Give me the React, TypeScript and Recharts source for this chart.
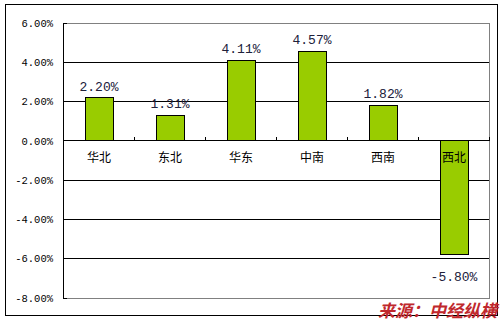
import { BarChart, Bar, XAxis, YAxis, CartesianGrid, ReferenceArea, ReferenceLine, LabelList } from 'recharts'

const regions = ['华北', '东北', '华东', '中南', '西南', '西北']
const growth = [2.2, 1.31, 4.11, 4.57, 1.82, -5.8]
const yTicks = [-8, -6, -4, -2, 0, 2, 4, 6]
const source = '来源：中经纵横'

const data = regions.map((name, i) => ({ name, value: growth[i] }))

const W = 502
const H = 322
const margin = { top: 23, right: 13, bottom: 24, left: 0 }
const yAxisWidth = 63
const bandWidth = (W - margin.left - margin.right - yAxisWidth) / regions.length

const mono = '"Liberation Mono", "DejaVu Sans Mono", monospace'

function ValueLabel(props: any) {
  const { x = 0, y = 0, width = 0, height = 0, value } = props
  const cx = x + width / 2
  const top = Math.min(y, y + height)
  const bottom = Math.max(y, y + height)
  const v = Number(value)
  const ty = v >= 0 ? top - 7 : bottom + 26
  return (
    <text x={cx} y={ty} textAnchor="middle" fontFamily={mono} fontSize={13} fill="#20203a">
      {`${v.toFixed(2)}%`}
    </text>
  )
}

function NameLabel(props: any) {
  const { x = 0, y = 0, width = 0, height = 0, value, index } = props
  const cx = x + width / 2
  const v = growth[index]
  const zero = v >= 0 ? Math.max(y, y + height) : Math.min(y, y + height)
  const edge = cx + bandWidth / 2
  return (
    <g>
      <line x1={edge} x2={edge} y1={zero} y2={zero - 4} stroke="#000" shapeRendering="crispEdges" />
      <text x={cx} y={zero + 21} textAnchor="middle" fontFamily='"Noto Sans CJK SC", sans-serif' fontSize={12} fill="#000">
        {value}
      </text>
    </g>
  )
}

export default function App() {
  return (
    <div style={{ position: 'absolute', left: 0, top: 0, width: W, height: H, background: '#fff' }}>
      <div
        style={{
          position: 'absolute',
          left: 5,
          top: 4,
          width: 493,
          height: 312,
          border: '1px solid #000',
          boxSizing: 'border-box',
        }}
      />
      <div style={{ position: 'absolute', left: 0, top: 0 }}>
        <BarChart width={W} height={H} data={data} margin={margin}>
          <CartesianGrid stroke="#000" vertical={false} shapeRendering="crispEdges" />
          <ReferenceArea
            y1={-8}
            y2={6}
            fill="none"
            stroke="#808080"
            strokeOpacity={1}
            ifOverflow="extendDomain"
            shapeRendering="crispEdges"
          />
          <XAxis dataKey="name" hide />
          <YAxis
            domain={[-8, 6]}
            ticks={yTicks}
            width={yAxisWidth}
            interval={0}
            axisLine={{ stroke: '#000', shapeRendering: 'crispEdges' }}
            tickLine={{ stroke: '#000', shapeRendering: 'crispEdges' }}
            tickSize={-4}
            tickMargin={14}
            tick={{ fill: '#000', fontSize: 10.5, fontFamily: mono }}
            tickFormatter={(v: number) => `${v.toFixed(2)}%`}
          />
          <ReferenceLine y={0} stroke="#000" shapeRendering="crispEdges" />
          <Bar
            dataKey="value"
            fill="#99CC00"
            stroke="#000"
            strokeWidth={1}
            barSize={28}
            shapeRendering="crispEdges"
            isAnimationActive={false}
          >
            <LabelList dataKey="value" content={<ValueLabel />} />
            <LabelList dataKey="name" content={<NameLabel />} />
          </Bar>
        </BarChart>
      </div>
      <div
        style={{
          position: 'absolute',
          left: 378,
          top: 301,
          fontFamily: '"Noto Sans CJK SC", sans-serif',
          fontWeight: 700,
          fontStyle: 'italic',
          fontSize: 17,
          lineHeight: '17px',
          color: '#C0282D',
          whiteSpace: 'nowrap',
        }}
      >
        {source}
      </div>
    </div>
  )
}
